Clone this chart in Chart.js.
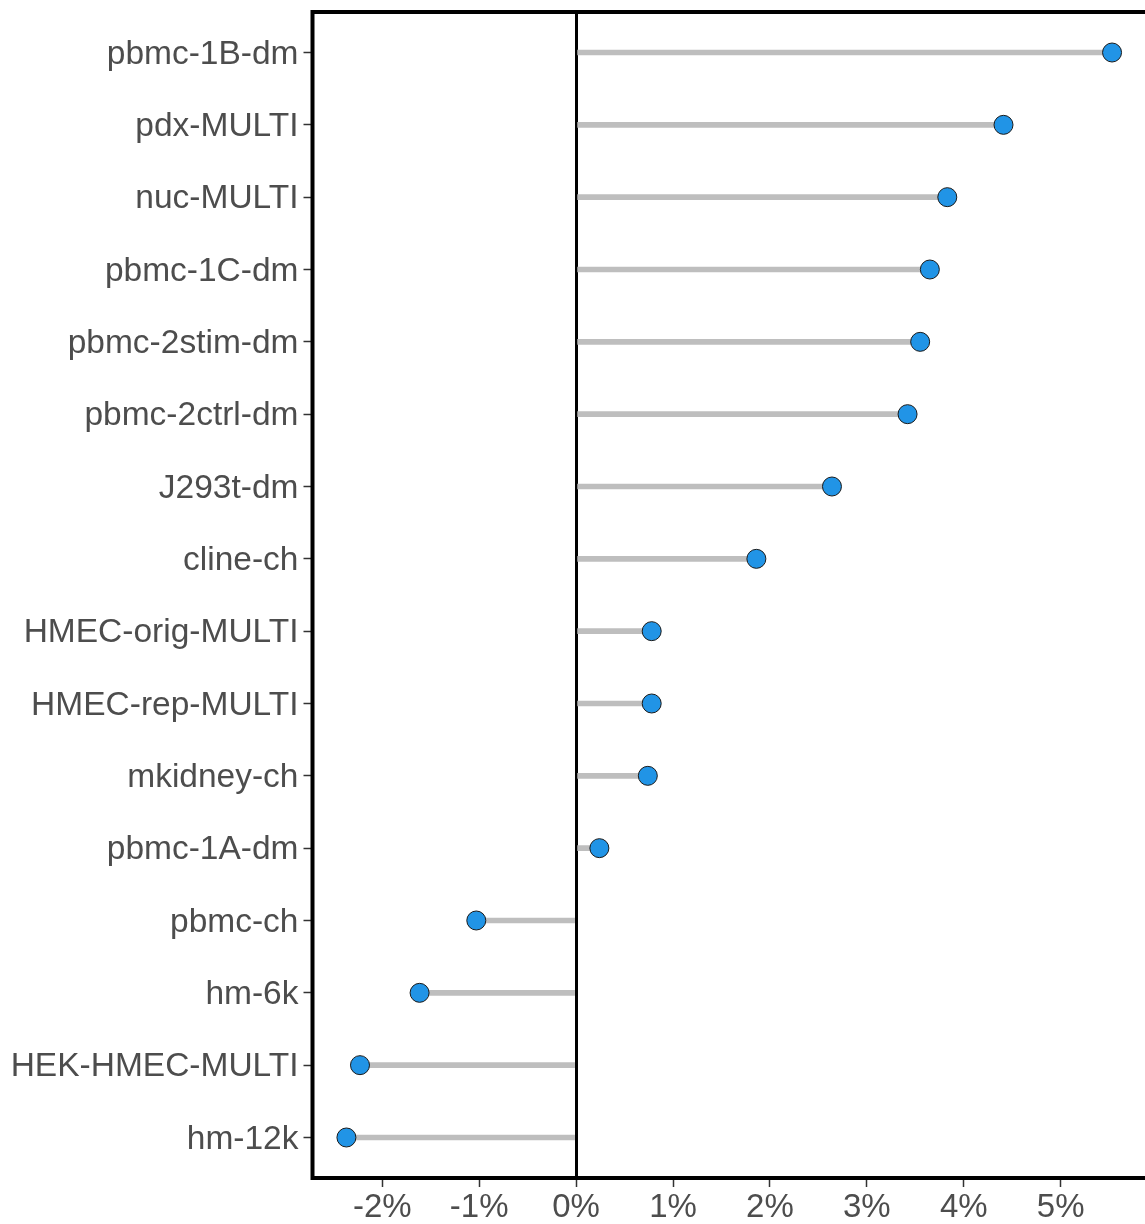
<!DOCTYPE html>
<html>
<head>
<meta charset="utf-8">
<script src="https://cdn.jsdelivr.net/npm/chart.js@4/dist/chart.umd.min.js"></script>
<style>
  html, body { margin: 0; padding: 0; background: #ffffff; overflow: hidden; }
  #wrap { width: 1145px; height: 1224px; }
</style>
</head>
<body>
<div id="wrap"><canvas id="chart" width="1145" height="1224"></canvas></div>
<script>
// Datasets, top to bottom
const datasets = [
  'pbmc-1B-dm', 'pdx-MULTI', 'nuc-MULTI', 'pbmc-1C-dm', 'pbmc-2stim-dm',
  'pbmc-2ctrl-dm', 'J293t-dm', 'cline-ch', 'HMEC-orig-MULTI', 'HMEC-rep-MULTI',
  'mkidney-ch', 'pbmc-1A-dm', 'pbmc-ch', 'hm-6k', 'HEK-HMEC-MULTI', 'hm-12k'
];
// Change in percent for each dataset
const changePct = [
  5.53, 4.41, 3.83, 3.65, 3.55,
  3.42, 2.64, 1.86, 0.78, 0.78,
  0.74, 0.24, -1.03, -1.615, -2.23, -2.37
];
// Tick values on the percent axis
const pctTicks = [-2, -1, 0, 1, 2, 3, 4, 5];

const fontFamily = "'Liberation Sans', Arial, sans-serif";
const labelColor = '#4d4d4d';

// Panel frame: left, top and bottom edges
const framePlugin = {
  id: 'frame',
  afterDraw(chart) {
    const { ctx, chartArea: a } = chart;
    ctx.save();
    ctx.strokeStyle = '#000000';
    ctx.lineWidth = 4;
    ctx.lineCap = 'square';
    ctx.beginPath();
    ctx.moveTo(a.right + 10, a.top);
    ctx.lineTo(a.left, a.top);
    ctx.lineTo(a.left, a.bottom);
    ctx.lineTo(a.right + 10, a.bottom);
    ctx.stroke();
    ctx.restore();
  }
};

new Chart(document.getElementById('chart'), {
  type: 'bar',
  data: {
    datasets: [
      {
        type: 'bar',
        indexAxis: 'y',
        data: changePct.map((v, i) => ({ x: [0, v], y: i })),
        backgroundColor: '#bebebe',
        barThickness: 5,
        order: 2
      },
      {
        type: 'scatter',
        data: changePct.map((v, i) => ({ x: v, y: i })),
        pointRadius: 9.5,
        pointBackgroundColor: '#2194e6',
        pointBorderColor: '#1a1a1a',
        pointBorderWidth: 1,
        order: 1
      }
    ]
  },
  options: {
    responsive: false,
    devicePixelRatio: 1,
    animation: false,
    layout: { autoPadding: false, padding: { top: 12, left: 0, right: 0, bottom: 0 } },
    plugins: { legend: { display: false }, tooltip: { enabled: false } },
    scales: {
      x: {
        type: 'linear',
        position: 'bottom',
        min: -2.72,
        max: 5.87,
        offset: false,
        afterBuildTicks: s => { s.ticks = pctTicks.map(v => ({ value: v })); },
        afterFit: s => {
          s.height = 46;
          s.paddingLeft = 0;
          s.paddingRight = 0;
        },
        border: { display: false },
        grid: {
          drawOnChartArea: true,
          offset: false,
          color: c => (c.tick && c.tick.value === 0 ? '#000000' : 'rgba(0,0,0,0)'),
          lineWidth: c => (c.tick && c.tick.value === 0 ? 3 : 1),
          tickColor: '#333333',
          tickWidth: 1.5,
          tickLength: 9
        },
        ticks: {
          autoSkip: false,
          maxRotation: 0,
          padding: 1,
          color: labelColor,
          font: { family: fontFamily, size: 33 },
          callback: v => v + '%'
        }
      },
      y: {
        type: 'linear',
        position: 'left',
        reverse: true,
        min: -0.56,
        max: 15.56,
        offset: false,
        afterBuildTicks: s => { s.ticks = datasets.map((_, i) => ({ value: i })); },
        afterFit: s => {
          s.width = 312.5;
          s.paddingTop = 0;
          s.paddingBottom = 0;
        },
        border: { display: false },
        grid: {
          drawOnChartArea: false,
          offset: false,
          tickColor: '#333333',
          tickWidth: 1.5,
          tickLength: 9
        },
        ticks: {
          autoSkip: false,
          padding: 5,
          labelOffset: 2,
          color: labelColor,
          font: { family: fontFamily, size: 33.5 },
          callback: v => datasets[v]
        }
      }
    }
  },
  plugins: [framePlugin]
});
</script>
</body>
</html>
